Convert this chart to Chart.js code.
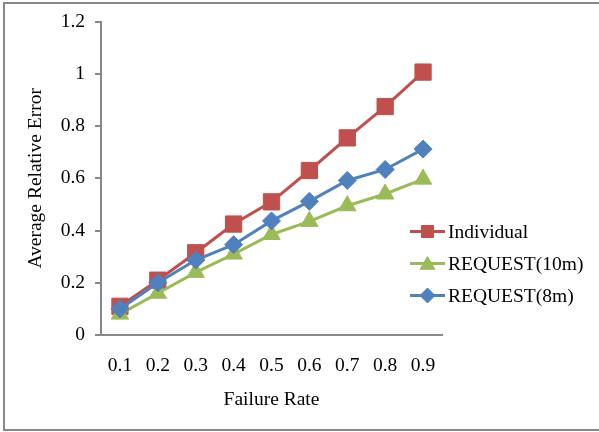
<!DOCTYPE html>
<html>
<head>
<meta charset="utf-8">
<script src="https://cdn.jsdelivr.net/npm/chart.js@4.4.1/dist/chart.umd.min.js"></script>
<style>
  html, body { margin: 0; padding: 0; background: #ffffff; }
  #wrap { position: relative; width: 599px; height: 432px; }
</style>
</head>
<body>
<div id="wrap"><canvas id="c" width="599" height="432"></canvas></div>
<script>
// Failure rates on the category axis
const failureRates = ['0.1', '0.2', '0.3', '0.4', '0.5', '0.6', '0.7', '0.8', '0.9'];

// Average relative error for each scheme
const individual = [0.11, 0.21, 0.315, 0.425, 0.51, 0.63, 0.755, 0.875, 1.007];
const request10m = [0.08, 0.16, 0.24, 0.31, 0.385, 0.435, 0.495, 0.54, 0.597];
const request8m  = [0.10, 0.20, 0.287, 0.346, 0.437, 0.512, 0.592, 0.634, 0.712];

// Value axis ticks
const yTicks = [0, 0.2, 0.4, 0.6, 0.8, 1, 1.2];

const FONT = "'Liberation Serif', 'Times New Roman', serif";
const AXIS_GRAY = '#888888';

// Frame around the figure (left, top and bottom edges)
const framePlugin = {
  id: 'frame',
  beforeDraw(chart) {
    const ctx = chart.ctx;
    ctx.save();
    ctx.fillStyle = '#ffffff';
    ctx.fillRect(0, 0, chart.width, chart.height);
    ctx.strokeStyle = AXIS_GRAY;
    ctx.lineWidth = 2;
    ctx.beginPath();
    ctx.moveTo(chart.width, 3);
    ctx.lineTo(4, 3);
    ctx.lineTo(4, 430);
    ctx.lineTo(chart.width, 430);
    ctx.stroke();
    ctx.restore();
  }
};

// Legend with a line sample through the marker, as drawn on the right
const lineLegendPlugin = {
  id: 'lineLegend',
  afterDraw(chart) {
    const ctx = chart.ctx;
    const x0 = 410, x1 = 445, textX = 448, y0 = 231.5, step = 32;
    const legendRadius = { rect: 8.5, triangle: 8.5, rectRot: 7.5 };
    ctx.save();
    chart.data.datasets.forEach((ds, i) => {
      const y = y0 + i * step;
      ctx.strokeStyle = ds.borderColor;
      ctx.lineWidth = 3;
      ctx.beginPath();
      ctx.moveTo(x0, y);
      ctx.lineTo(x1, y);
      ctx.stroke();
      ctx.fillStyle = ds.pointBackgroundColor;
      ctx.strokeStyle = ds.pointBorderColor;
      ctx.lineWidth = 1;
      Chart.helpers.drawPoint(ctx, {
        pointStyle: ds.pointStyle,
        radius: legendRadius[ds.pointStyle],
        borderWidth: 1,
        rotation: 0
      }, (x0 + x1) / 2, ds.pointStyle === 'triangle' ? y + 1.5 : y);
      ctx.fillStyle = '#000000';
      ctx.font = '19.5px ' + FONT;
      ctx.textAlign = 'left';
      ctx.textBaseline = 'middle';
      ctx.fillText(ds.label, textX, y + 1);
    });
    ctx.restore();
  }
};

function series(label, values, color, style, radius, order) {
  return {
    label: label,
    data: values,
    borderColor: color,
    backgroundColor: color,
    borderWidth: 3,
    pointStyle: style,
    pointRadius: radius,
    pointHoverRadius: radius,
    pointBackgroundColor: color,
    pointBorderColor: color,
    pointBorderWidth: 1,
    tension: 0,
    order: order
  };
}

new Chart(document.getElementById('c'), {
  type: 'line',
  data: {
    labels: failureRates,
    datasets: [
      series('Individual', individual, '#C0504D', 'rect', 11.5, 3),
      series('REQUEST(10m)', request10m, '#9BBB59', 'triangle', 10, 2),
      series('REQUEST(8m)', request8m, '#4F81BD', 'rectRot', 9, 1)
    ]
  },
  options: {
    responsive: false,
    animation: false,
    devicePixelRatio: 1,
    layout: { padding: { top: 21, right: 157, bottom: 0, left: 0 } },
    plugins: {
      legend: { display: false },
      tooltip: { enabled: false },
      title: { display: false }
    },
    scales: {
      x: {
        type: 'category',
        offset: true,
        grid: { display: false, drawTicks: false },
        border: { display: true, color: AXIS_GRAY, width: 2 },
        ticks: {
          color: '#000000',
          font: { family: FONT, size: 19.5 },
          padding: 19,
          maxRotation: 0,
          autoSkip: false
        },
        title: {
          display: true,
          text: 'Failure Rate',
          color: '#000000',
          font: { family: FONT, size: 19.5 },
          padding: { top: 0, bottom: 20 }
        },
        afterFit(scale) { scale.height = 97; }
      },
      y: {
        min: 0,
        max: 1.2,
        grid: {
          display: true,
          drawOnChartArea: false,
          drawTicks: true,
          tickLength: 6,
          color: AXIS_GRAY,
          lineWidth: 2
        },
        border: { display: true, color: AXIS_GRAY, width: 2 },
        afterBuildTicks(scale) {
          scale.ticks = yTicks.map(v => ({ value: v }));
        },
        ticks: {
          color: '#000000',
          font: { family: FONT, size: 19.5 },
          padding: 10,
          callback: (v) => String(Math.round(v * 10) / 10)
        },
        title: {
          display: true,
          text: 'Average Relative Error',
          color: '#000000',
          font: { family: FONT, size: 19.5 },
          padding: { top: 24, bottom: 0 }
        },
        afterFit(scale) { scale.width = 101; }
      }
    }
  },
  plugins: [framePlugin, lineLegendPlugin]
});
</script>
</body>
</html>
